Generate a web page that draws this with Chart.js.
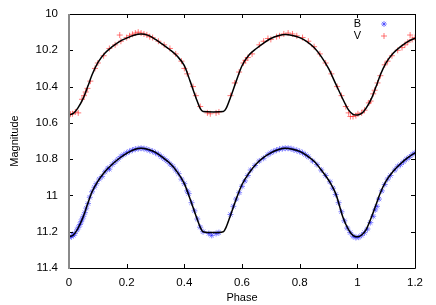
<!DOCTYPE html>
<html>
<head>
<meta charset="utf-8">
<script src="https://cdn.jsdelivr.net/npm/chart.js@4/dist/chart.umd.min.js"></script>
<style>
  html, body { margin: 0; padding: 0; background: #fff; }
  #wrap { width: 436px; height: 305px; position: relative; }
</style>
</head>
<body>
<div id="wrap"><canvas id="myChart" width="436" height="305"></canvas></div>
<script>
// tick labels
const xTicks = [0, 0.2, 0.4, 0.6, 0.8, 1, 1.2];
const yTicks = [10, 10.2, 10.4, 10.6, 10.8, 11, 11.2, 11.4];

// fitted model curves (phase, magnitude)
const modelPhase = [0, 0.015, 0.03, 0.05, 0.065, 0.08, 0.1, 0.125, 0.15, 0.175, 0.2, 0.225, 0.25,
  0.275, 0.3, 0.325, 0.35, 0.375, 0.4, 0.42, 0.44, 0.455, 0.465, 0.5, 0.535, 0.545, 0.56, 0.58,
  0.6, 0.625, 0.65, 0.675, 0.7, 0.725, 0.75, 0.775, 0.8, 0.825, 0.85, 0.875, 0.9, 0.925, 0.95,
  0.97, 0.985, 1, 1.015, 1.03, 1.05, 1.065, 1.08, 1.1, 1.125, 1.15, 1.175, 1.2];
const modelV = [10.557, 10.548, 10.52, 10.462, 10.4, 10.335, 10.268, 10.215, 10.18, 10.152, 10.133, 10.117, 10.11,
  10.118, 10.14, 10.168, 10.197, 10.232, 10.285, 10.37, 10.46, 10.52, 10.538, 10.54, 10.538, 10.52, 10.46, 10.37,
  10.285, 10.225, 10.19, 10.16, 10.135, 10.12, 10.113, 10.118, 10.13, 10.152, 10.185, 10.235, 10.3, 10.385, 10.47,
  10.53, 10.553, 10.557, 10.548, 10.52, 10.462, 10.4, 10.335, 10.268, 10.215, 10.18, 10.152, 10.133];
const modelB = [11.228, 11.218, 11.185, 11.115, 11.045, 10.98, 10.922, 10.868, 10.828, 10.795, 10.768, 10.748, 10.74,
  10.747, 10.763, 10.79, 10.823, 10.87, 10.935, 11.02, 11.11, 11.175, 11.2, 11.205, 11.2, 11.175, 11.11, 11.02,
  10.94, 10.875, 10.825, 10.79, 10.765, 10.748, 10.74, 10.745, 10.757, 10.78, 10.812, 10.86, 10.915, 10.99, 11.12,
  11.19, 11.22, 11.228, 11.218, 11.19, 11.115, 11.05, 10.985, 10.92, 10.865, 10.825, 10.792, 10.765];

// observations V
const vPhase = [0.005, 0.012, 0.022, 0.032, 0.045, 0.052, 0.058, 0.064, 0.074, 0.09, 0.1, 0.12, 0.14, 0.16, 0.176,
  0.18, 0.2, 0.21, 0.22, 0.23, 0.24, 0.25, 0.26, 0.27, 0.28, 0.29, 0.31, 0.33, 0.35, 0.37, 0.39, 0.4, 0.41, 0.43,
  0.44, 0.455, 0.48, 0.49, 0.51, 0.52, 0.56, 0.575, 0.59, 0.605, 0.612, 0.62, 0.635, 0.66, 0.675, 0.69, 0.7, 0.72,
  0.73, 0.745, 0.76, 0.775, 0.79, 0.81, 0.83, 0.85, 0.87, 0.89, 0.91, 0.93, 0.945, 0.96, 0.97, 0.976, 0.985, 0.995,
  1.002, 1.015, 1.025, 1.04, 1.046, 1.055, 1.06, 1.07, 1.08, 1.095, 1.105, 1.12, 1.14, 1.155, 1.165, 1.175, 1.183,
  1.19, 1.2];
const vMag = [10.552, 10.55, 10.54, 10.545, 10.47, 10.45, 10.43, 10.41, 10.37, 10.3, 10.27, 10.23, 10.19, 10.17, 10.116,
  10.15, 10.13, 10.12, 10.112, 10.105, 10.1, 10.105, 10.11, 10.115, 10.125, 10.13, 10.15, 10.17, 10.19, 10.22, 10.26,
  10.3, 10.33, 10.4, 10.45, 10.51, 10.545, 10.55, 10.545, 10.54, 10.45, 10.38, 10.32, 10.27, 10.255, 10.24, 10.22,
  10.17, 10.15, 10.135, 10.14, 10.125, 10.12, 10.11, 10.105, 10.11, 10.12, 10.13, 10.15, 10.18, 10.22, 10.27, 10.33,
  10.4, 10.45, 10.51, 10.545, 10.565, 10.565, 10.56, 10.55, 10.545, 10.53, 10.49, 10.48, 10.44, 10.42, 10.38, 10.34,
  10.28, 10.26, 10.23, 10.2, 10.185, 10.17, 10.155, 10.116, 10.14, 10.13];

// observations B
const bPhase = [0.002, 0.008, 0.015, 0.02, 0.028, 0.033, 0.038, 0.042, 0.046, 0.05, 0.055, 0.06, 0.066, 0.072, 0.08,
  0.088, 0.095, 0.105, 0.115, 0.125, 0.135, 0.14, 0.15, 0.16, 0.17, 0.18, 0.19, 0.2, 0.21, 0.22, 0.23, 0.24, 0.25,
  0.26, 0.27, 0.28, 0.29, 0.3, 0.31, 0.32, 0.33, 0.34, 0.35, 0.36, 0.37, 0.38, 0.39, 0.4, 0.41, 0.415, 0.425, 0.435,
  0.445, 0.455, 0.465, 0.485, 0.495, 0.51, 0.52, 0.56, 0.57, 0.58, 0.59, 0.6, 0.61, 0.62, 0.63, 0.645, 0.66, 0.675,
  0.69, 0.7, 0.71, 0.72, 0.73, 0.74, 0.75, 0.76, 0.77, 0.78, 0.79, 0.8, 0.81, 0.82, 0.83, 0.845, 0.86, 0.875, 0.89,
  0.905, 0.915, 0.925, 0.935, 0.945, 0.955, 0.965, 0.975, 0.985, 0.995, 1.005, 1.015, 1.025, 1.035, 1.045, 1.055,
  1.062, 1.068, 1.075, 1.085, 1.095, 1.105, 1.115, 1.13, 1.14, 1.15, 1.16, 1.17, 1.18, 1.19, 1.2];
const bMag = [11.232, 11.225, 11.22, 11.21, 11.19, 11.175, 11.16, 11.145, 11.13, 11.115, 11.095, 11.07, 11.045, 11.01, 10.98,
  10.955, 10.935, 10.91, 10.895, 10.87, 10.85, 10.855, 10.83, 10.815, 10.8, 10.785, 10.775, 10.765, 10.757, 10.75, 10.745,
  10.742, 10.74, 10.742, 10.746, 10.752, 10.757, 10.765, 10.773, 10.786, 10.798, 10.81, 10.826, 10.84, 10.86, 10.88, 10.91,
  10.935, 10.975, 10.99, 11.04, 11.085, 11.13, 11.175, 11.2, 11.21, 11.22, 11.21, 11.205, 11.105, 11.06, 11.02, 10.985,
  10.95, 10.92, 10.89, 10.86, 10.835, 10.81, 10.795, 10.775, 10.765, 10.757, 10.75, 10.745, 10.742, 10.74, 10.74, 10.742,
  10.748, 10.752, 10.758, 10.765, 10.775, 10.787, 10.81, 10.83, 10.86, 10.89, 10.925, 10.96, 10.995, 11.04, 11.09, 11.14,
  11.18, 11.205, 11.225, 11.232, 11.23, 11.22, 11.205, 11.185, 11.15, 11.115, 11.08, 11.06, 11.02, 10.975, 10.94, 10.91,
  10.89, 10.86, 10.84, 10.83, 10.815, 10.8, 10.79, 10.775, 10.765];

const FONT = "'Liberation Sans', Arial, sans-serif";

function pares(xs, ys) {
  return xs.map((x, i) => ({ x: x, y: ys[i] }));
}

// border box, inward ticks and key, gnuplot style
const marco = {
  id: "marco",
  afterDatasetsDraw(chart) {
    const { ctx, chartArea: a, scales } = chart;
    ctx.save();
    ctx.strokeStyle = "#000";
    ctx.lineWidth = 1;
    ctx.beginPath();
    ctx.moveTo(a.left, a.top + 0.5); ctx.lineTo(a.right + 0.5, a.top + 0.5);
    ctx.lineTo(a.right + 0.5, a.bottom + 0.5); ctx.lineTo(a.left, a.bottom + 0.5);
    xTicks.forEach((t) => {
      const px = Math.round(scales.x.getPixelForValue(t)) + 0.5;
      ctx.moveTo(px, a.bottom); ctx.lineTo(px, a.bottom - 4);
      ctx.moveTo(px, a.top); ctx.lineTo(px, a.top + 4);
    });
    yTicks.forEach((t) => {
      const py = Math.round(scales.y.getPixelForValue(t)) + 0.5;
      ctx.moveTo(a.left, py); ctx.lineTo(a.left + 4, py);
      ctx.moveTo(a.right, py); ctx.lineTo(a.right - 4, py);
    });
    ctx.stroke();
    ctx.strokeStyle = "#8a8a8a";
    ctx.lineWidth = 2;
    ctx.beginPath();
    ctx.moveTo(a.left, a.top); ctx.lineTo(a.left, a.bottom + 1);
    ctx.stroke();

    // key: text on the left, sample on the right
    ctx.font = "11px " + FONT;
    ctx.textAlign = "right";
    ctx.textBaseline = "middle";
    [chart.data.datasets[3], chart.data.datasets[2]].forEach((ds, i) => {
      const y = 24 + i * 12;
      ctx.fillStyle = "#000";
      ctx.fillText(ds.label, 361, y);
      ctx.strokeStyle = ds.borderColor;
      ctx.fillStyle = ds.backgroundColor;
      ctx.lineWidth = ds.borderWidth;
      Chart.helpers.drawPoint(ctx, {
        pointStyle: ds.pointStyle, radius: ds.pointRadius, borderWidth: ds.borderWidth, rotation: 0,
      }, 384, y);
    });
    ctx.restore();
  },
};

function dibujarGrafica() {
  const ctx = document.getElementById("myChart").getContext("2d");
  const modelo = {
    showLine: true, pointRadius: 0, borderColor: "#000", borderWidth: 1.5,
    cubicInterpolationMode: "monotone", fill: false, order: 0,
  };
  new Chart(ctx, {
    type: "scatter",
    data: {
      datasets: [
        Object.assign({ label: "modelV", data: pares(modelPhase, modelV) }, modelo),
        Object.assign({ label: "modelB", data: pares(modelPhase, modelB) }, modelo),
        {
          label: "V", data: pares(vPhase, vMag), pointStyle: "cross", pointRadius: 3,
          borderColor: "rgba(255,30,30,0.6)", backgroundColor: "rgba(255,30,30,0.6)", borderWidth: 1, order: 1,
        },
        {
          label: "B", data: pares(bPhase, bMag), pointStyle: "star", pointRadius: 3,
          borderColor: "rgba(30,30,255,0.55)", backgroundColor: "rgba(30,30,255,0.55)", borderWidth: 1, order: 2,
        },
      ],
    },
    options: {
      responsive: false,
      animation: false,
      events: [],
      layout: { padding: { top: 14, right: 21, left: 0, bottom: 0 } },
      plugins: { legend: { display: false }, tooltip: { enabled: false } },
      scales: {
        x: {
          type: "linear", min: 0, max: 1.2,
          afterBuildTicks: (s) => { s.ticks = xTicks.map((v) => ({ value: v })); },
          afterFit: (s) => { s.height = 37; s.paddingLeft = 0; s.paddingRight = 0; },
          grid: { display: false, drawTicks: false },
          border: { display: false },
          ticks: {
            padding: 8, color: "#000", font: { family: FONT, size: 11.5 },
            callback: (v) => String(Number(v.toFixed(1))),
          },
          title: { display: true, text: "Phase", color: "#000", font: { family: FONT, size: 11 }, padding: { top: 3, bottom: 0 } },
        },
        y: {
          type: "linear", min: 10, max: 11.4, reverse: true,
          afterBuildTicks: (s) => { s.ticks = yTicks.map((v) => ({ value: v })); },
          afterFit: (s) => { s.width = 69; s.paddingTop = 0; s.paddingBottom = 0; },
          grid: { display: false, drawTicks: false },
          border: { display: false },
          ticks: {
            padding: 11, color: "#000", font: { family: FONT, size: 11.5 },
            callback: (v) => String(Number(v.toFixed(1))),
          },
          title: { display: true, text: "Magnitude", color: "#000", font: { family: FONT, size: 11 }, padding: { top: 8, bottom: 0 } },
        },
      },
    },
    plugins: [marco],
  });
}

dibujarGrafica();
</script>
</body>
</html>
